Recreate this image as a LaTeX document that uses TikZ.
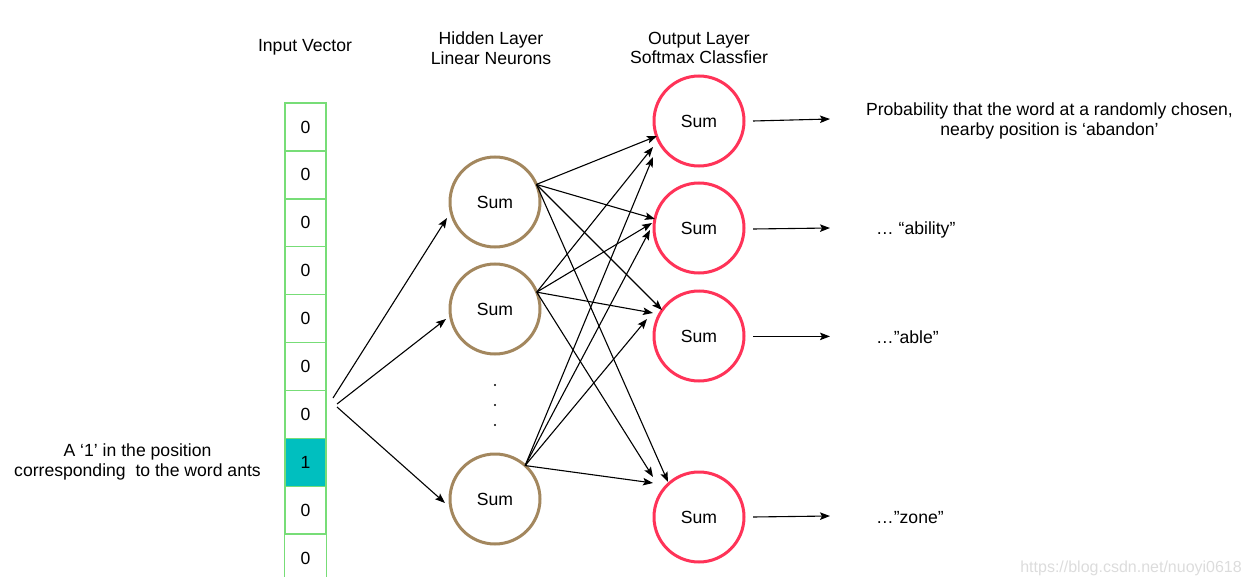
\documentclass[tikz,border=0pt]{standalone}
\usepackage{fontspec}
\setmainfont{Liberation Sans}
\usetikzlibrary{arrows.meta}
\definecolor{cellgreen}{HTML}{77DD77}
\definecolor{teal1}{HTML}{00BFBF}
\definecolor{hidbrown}{HTML}{A3875E}
\definecolor{outred}{HTML}{FF3358}
\definecolor{wmgray}{HTML}{DCDCDC}
\newcommand{\sumtxt}{\raisebox{-1.2pt}{Sum}}
\tikzset{
  txt/.style={font=\fontsize{17.6}{19.5}\selectfont, inner sep=0pt, align=center},
  cell/.style={draw=cellgreen, line width=1.4pt, minimum width=41pt, minimum height=47.9pt, inner sep=0pt, font=\fontsize{17.6}{19.5}\selectfont},
  hid/.style={circle, draw=hidbrown, line width=3pt, minimum size=90pt, inner sep=0pt, outer sep=0pt, font=\fontsize{17.6}{19.5}\selectfont},
  outn/.style={circle, draw=outred, line width=3pt, minimum size=90pt, inner sep=0pt, outer sep=0pt, font=\fontsize{17.6}{19.5}\selectfont},
  conn/.style={line width=1.1pt, -{Stealth[length=10pt,width=7.5pt,inset=2pt]}},
}
\begin{document}
\begin{tikzpicture}[x=1pt,y=-1pt]
\useasboundingbox (0,0) rectangle (1251,586);
% headings
\node[txt] (hIn) at (305,47.5) {Input Vector};
\node[txt] (hHid) at (491,48) {Hidden Layer\\Linear Neurons};
\node[txt] (hOut) at (699,48) {Output Layer\\Softmax Classfier};
% input vector
\foreach \i in {0,...,8}{
  \pgfmathsetmacro{\yy}{127+47.9*\i}
  \ifnum\i=7
    \node[cell, fill=teal1] (c\i) at (305.5,\yy) {\raisebox{-1pt}{1}};
  \else
    \node[cell] (c\i) at (305.5,\yy) {\raisebox{-1pt}{0}};
  \fi
}
\node[cell, draw=none] (c9) at (305.5,558.1) {\raisebox{-1pt}{0}};
\draw[cellgreen, line width=1.4pt] (c9.north west) -- ++(0,44);
\draw[cellgreen, line width=1.4pt] (c9.north east) -- ++(0,44);
\node[txt] (lab1) at (137.5,462) {A ‘1’ in the position\\corresponding\ \ to the word ants};
% hidden
\node[hid] (H1) at (495,202) {\sumtxt};
\node[hid] (H2) at (495,309) {\sumtxt};
\node[hid] (H3) at (495,499) {\sumtxt};
\fill (495,385) circle (1.1pt);
\fill (495,405) circle (1.1pt);
\fill (495,425) circle (1.1pt);
% output
\node[outn] (O1) at (699,121) {\sumtxt};
\node[outn] (O2) at (699,228) {\sumtxt};
\node[outn] (O3) at (699,336) {\sumtxt};
\node[outn] (O4) at (699,517) {\sumtxt};
% input arrows
\coordinate (s1) at (333,398);
\coordinate (s2) at (337,404);
\coordinate (s3) at (337,407);
\draw[conn] (s1) -- ([shift={(-48,16)}]H1.center);
\draw[conn] (s2) -- ([shift={(-49,10)}]H2.center);
\draw[conn] (s3) -- ([shift={(-50,4)}]H3.center);
% hidden -> output
\draw[conn] (H1.23) -- ([shift={(-42,15)}]O1.center);
\draw[conn] (H2.22) -- ([shift={(-46,26)}]O1.center);
\draw[conn] (H3.48) -- ([shift={(-46,36)}]O1.center);
\draw[conn] (H1.23) -- ([shift={(-44,-9)}]O2.center);
\draw[conn] (H2.22) -- ([shift={(-47,-5)}]O2.center);
\draw[conn] (H3.48) -- ([shift={(-49,2)}]O2.center);
\draw[conn] (H1.23) -- ([shift={(-37,-26)}]O3.center);
\draw[conn] (H2.22) -- ([shift={(-46,-23)}]O3.center);
\draw[conn] (H3.48) -- ([shift={(-52,-17)}]O3.center);
\draw[conn] (H1.23) -- ([shift={(-31,-35)}]O4.center);
\draw[conn] (H2.22) -- ([shift={(-46,-40)}]O4.center);
\draw[conn] (H3.48) -- ([shift={(-46,-34)}]O4.center);
% output arrows and labels
\draw[conn] ([shift={(54,0)}]O1.center) -- ([shift={(131,-2)}]O1.center);
\draw[conn] ([shift={(54,1)}]O2.center) -- ([shift={(131,0)}]O2.center);
\draw[conn] ([shift={(54,0.4)}]O3.center) -- ([shift={(131,0.4)}]O3.center);
\draw[conn] ([shift={(54,0)}]O4.center) -- ([shift={(131,-1)}]O4.center);
\node[txt] (L1) at (1049.5,121) {Probability that the word at a randomly chosen,\\nearby position is ‘abandon’};
\node[txt, anchor=west] (L2) at (876,230) {… “ability”};
\node[txt, anchor=west] (L3) at (876,337) {…”able”};
\node[txt, anchor=west] (L4) at (876,518) {…”zone”};
\node[txt, text=wmgray, font=\fontsize{16}{17}\selectfont, anchor=east] (wm) at (1242,568) {https://blog.csdn.net/nuoyi0618};
\end{tikzpicture}
\end{document}
